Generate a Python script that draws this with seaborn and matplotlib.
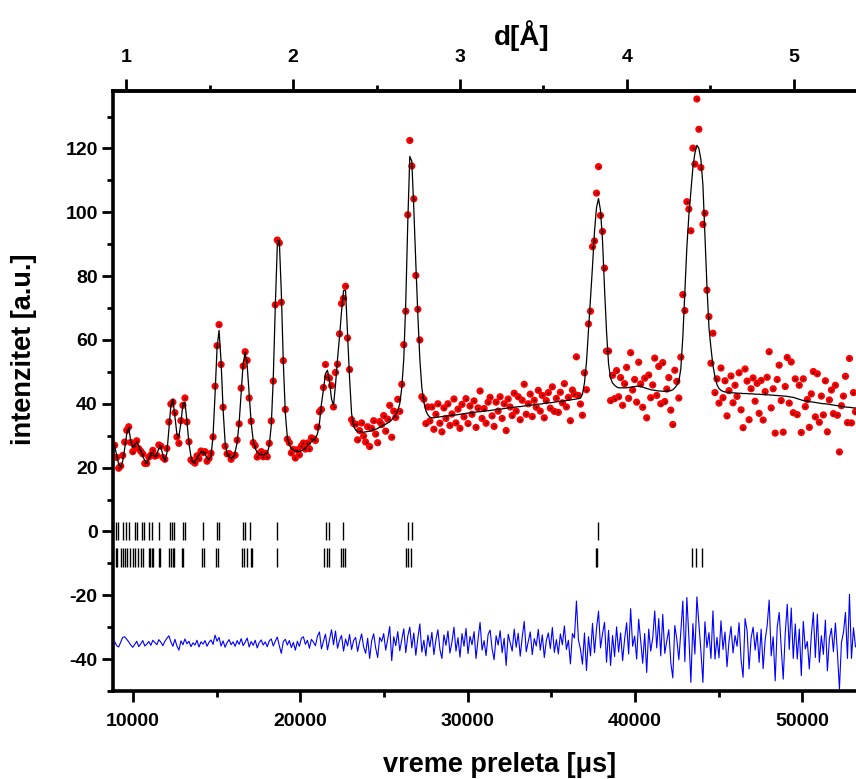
import numpy as np
import pandas as pd
import matplotlib
matplotlib.use('Agg')
import matplotlib.pyplot as plt
import seaborn as sns
from matplotlib.ticker import MultipleLocator, FixedLocator

# vreme preleta (TOF) kanali, korak 120
tof = np.arange(8900, 53181, 120)

# izracunati profil (crna linija), procitano sa slike
calc = [
    26.5, 24.0, 21.0, 20.2, 22.0, 26.0, 30.5, 32.4, 28.5, 26.3,
    27.2, 27.8, 27.0, 25.3, 23.5, 22.2, 21.6, 22.8, 24.6, 24.5,
    23.4, 24.3, 26.0, 26.4, 24.0, 22.0, 24.5, 32.0, 39.5, 41.5,
    36.0, 30.5, 29.8, 34.0, 40.0, 40.5, 34.5, 27.5, 23.5, 21.8,
    22.0, 22.8, 24.0, 24.8, 25.0, 24.2, 23.0, 22.6, 23.5, 30.0,
    43.0, 57.6, 63.0, 53.2, 38.2, 28.0, 24.1, 23.3, 23.1, 23.2,
    24.9, 27.8, 34.1, 43.5, 52.6, 56.0, 52.0, 43.0, 34.0, 28.5,
    26.0, 24.8, 24.2, 24.0, 24.0, 24.1, 24.5, 26.9, 33.3, 48.0,
    70.4, 89.4, 91.2, 75.0, 53.0, 37.0, 29.5, 27.0, 26.0, 25.5,
    25.2, 25.0, 25.0, 25.3, 25.7, 26.2, 26.8, 27.5, 28.1, 28.7,
    29.3, 30.5, 34.0, 40.0, 44.5, 49.5, 50.5, 47.0, 41.5, 39.5,
    46.0, 54.0, 61.0, 69.0, 75.5, 75.5, 61.5, 48.0, 37.0, 33.0,
    31.8, 31.3, 31.2, 31.1, 31.1, 31.2, 31.3, 31.4, 31.6, 31.8,
    32.0, 32.3, 32.6, 33.0, 33.3, 33.6, 34.0, 34.3, 35.0, 35.7,
    36.5, 37.8, 40.0, 45.0, 54.0, 72.0, 97.0, 117.5, 116.0, 101.0,
    84.0, 68.0, 54.0, 45.0, 40.5, 37.8, 36.5, 35.8, 35.6, 35.6,
    35.7, 35.8, 35.9, 36.0, 36.1, 36.1, 36.2, 36.3, 36.4, 36.5,
    36.5, 36.6, 36.7, 36.8, 36.9, 37.0, 37.1, 37.2, 37.2, 37.3,
    37.4, 37.5, 37.5, 37.6, 37.7, 37.8, 37.8, 37.9, 38.0, 38.1,
    38.2, 38.3, 38.3, 38.4, 38.5, 38.6, 38.7, 38.8, 38.8, 38.9,
    39.0, 39.1, 39.1, 39.2, 39.3, 39.4, 39.5, 39.5, 39.6, 39.7,
    39.8, 39.9, 39.9, 40.0, 40.1, 40.2, 40.3, 40.3, 40.4, 40.5,
    40.6, 40.7, 40.7, 40.8, 40.9, 41.0, 41.1, 41.2, 41.3, 41.4,
    41.5, 41.6, 41.8, 43.0, 46.5, 53.0, 63.0, 73.0, 83.0, 94.0,
    101.5, 104.3, 100.5, 91.0, 76.0, 62.5, 52.5, 48.0, 46.5, 45.8,
    45.3, 45.0, 45.0, 45.0, 45.0, 45.0, 45.1, 45.2, 45.3, 45.4,
    45.5, 45.5, 45.4, 45.2, 45.0, 44.8, 44.6, 44.4, 44.3, 44.2,
    44.1, 44.0, 44.0, 43.9, 43.9, 43.9, 44.0, 44.1, 44.4, 45.0,
    45.8, 47.0, 51.0, 61.0, 75.0, 89.0, 99.0, 106.5, 114.0, 118.5,
    121.0, 120.0, 116.5, 108.5, 93.0, 77.0, 64.0, 57.5, 52.0, 48.5,
    46.0, 44.8, 44.2, 43.9, 43.7, 43.6, 43.5, 43.5, 43.4, 43.4,
    43.3, 43.3, 43.3, 43.2, 43.2, 43.2, 43.1, 43.1, 43.1, 43.0,
    43.0, 43.0, 42.9, 42.9, 42.8, 42.8, 42.8, 42.7, 42.7, 42.6,
    42.6, 42.5, 42.5, 42.4, 42.4, 42.3, 42.2, 42.1, 42.0, 41.8,
    41.6, 41.4, 41.2, 41.0, 40.9, 40.8, 40.7, 40.6, 40.5, 40.4,
    40.3, 40.2, 40.1, 40.0, 40.0, 39.9, 39.8, 39.7, 39.6, 39.5,
    39.4, 39.3, 39.2, 39.1, 39.0, 38.9, 38.9, 38.8, 38.7, 38.7,
]

# razlika (obs - calc), procitano sa plave linije
diff = [
    0.5, -0.8, -1.2, 0.3, 1.8, 2.0, 1.2, 0.4, -0.6, -1.3,
    -0.4, 0.6, -1.1, -0.2, 0.8, -0.9, -0.3, 0.5, -0.7, 0.9,
    0.2, -0.5, 1.1, 0.3, -0.8, 0.6, 1.5, 2.3, 0.4, -1.0,
    1.2, -0.9, -2.2, 0.7, -0.5, 1.3, -0.2, 0.6, -1.1, 0.1,
    -0.6, 0.9, -1.2, 0.4, -0.3, 0.8, -1.0, 0.3, 1.0, -0.4,
    2.5, 0.6, 1.8, -0.9, 0.7, -1.3, 0.2, 1.1, -0.5, 0.4,
    -1.0, 0.8, -0.4, 1.4, -0.8, 0.3, 1.6, -1.2, 0.5, -0.7,
    0.9, -1.5, 0.2, 1.0, -0.6, 0.4, -1.1, 0.7, 1.3, -0.9,
    0.6, 1.9, -0.8, -3.2, 0.5, 1.2, -0.6, 0.8, -1.4, 0.2,
    -2.2, 0.6, -1.0, 1.5, 2.0, -0.4, 0.9, -1.6, 1.2, 0.3,
    -0.8, 2.2, 3.5, -1.8, 0.6, 2.8, -2.1, 1.0, 4.2, -0.5,
    3.8, -1.6, 0.9, 2.4, -2.5, 1.3, -0.9, 2.7, -2.0, 0.8,
    1.8, -2.6, 0.4, 2.9, -1.2, -3.2, 1.5, -4.8, 0.7, 2.9,
    -1.5, -4.5, 1.8, 0.5, 3.0, -2.2, 1.2, 5.2, -5.5, 2.0,
    -0.8, 3.6, -2.4, 1.1, 4.5, -3.0, 2.2, 5.0, -1.5, 3.2,
    -3.8, 1.6, 6.0, -2.8, 0.9, -4.0, 2.5, -1.2, 3.4, -3.6,
    1.0, 4.2, -2.0, -4.8, 2.6, -0.7, 3.8, -3.1, 0.4, 5.0,
    -2.5, 1.7, -4.4, 3.0, -1.0, 4.6, -3.3, 2.1, -0.5, 3.6,
    -4.8, 1.2, 6.5, -2.2, 0.8, -3.9, 2.7, 4.1, -1.8, -5.2,
    2.3, -0.6, 3.9, -3.0, 1.5, -7.0, 2.8, 0.2, -2.5, 4.4,
    -1.3, 3.1, -4.1, 1.9, 6.8, -2.7, 0.5, 3.5, -3.6, 1.4,
    -0.9, 4.3, -2.2, 2.6, -4.5, 0.8, 3.2, -1.7, 4.9, -2.9,
    1.1, -3.4, 2.9, -0.5, 5.4, -2.0, 0.9, -6.5, 3.0, 1.6,
    13.2, 1.0, -1.9, -6.6, 3.2, -8.6, 2.0, -4.0, 6.2, -3.0,
    4.5, 10.0, -1.5, 3.0, 6.5, -6.0, 4.0, -7.0, 2.4, -4.2,
    5.1, -2.8, 3.2, -5.5, 1.3, 6.4, -3.4, 10.8, -1.0, 2.2,
    -5.0, 7.5, 0.8, -6.3, 3.0, -9.2, 4.4, -2.5, 1.6, 10.1,
    -1.5, 7.7, -4.0, 9.0, -3.2, 0.7, 4.2, -6.1, -10.9, 5.5,
    1.2, -5.2, 3.6, 13.2, -5.8, 14.3, 2.0, -12.3, 6.1, -3.4,
    14.5, 6.0, -2.5, -12.3, 6.7, -1.4, 3.3, -4.8, 10.1, -5.0,
    1.8, -4.6, 7.0, -2.0, 3.5, -7.4, 0.6, 5.2, -3.1, 2.4,
    -1.0, 6.4, -5.2, -10.7, 7.7, 3.9, -8.1, 1.6, 5.0, -2.2,
    3.4, -6.0, 4.4, -8.0, 1.0, 5.5, 13.5, -4.0, 2.0, -11.8,
    5.0, 9.6, -1.5, -11.3, 3.0, 12.2, -2.0, 11.0, -4.8, 6.0,
    -5.0, 4.4, -10.2, 6.8, -1.8, 0.5, -8.1, 2.5, 9.6, -4.5,
    9.1, -6.0, 2.3, -3.5, 7.2, -8.7, 1.4, 4.6, -2.7, 6.3,
    -3.0, -14.4, 0.2, 3.3, 9.6, -4.8, 15.3, -4.8, 4.8, -1.2,
]

diff_offset = -35

# polozaji refleksija za dve faze
faza1 = [8980, 9120, 9420, 9580, 9740, 10100, 10220, 10520, 10640, 10970,
         11120, 11570, 12210, 12310, 12450, 12970, 13090, 14200, 15040, 15160,
         16560, 16680, 16990, 18590, 21540, 21730, 22530, 26450, 26660, 37780]
faza2 = [8980, 9060, 9270, 9420, 9500, 9660, 9820, 9980, 10140, 10320,
         10480, 10580, 10960, 11030, 11150, 11210, 11540, 11610, 12150, 12250,
         12370, 12450, 12910, 13010, 14120, 14240, 14960, 15100, 16500, 16630,
         16800, 17050, 17130, 18590, 21420, 21580, 21730, 22420, 22530, 22670,
         26320, 26460, 26600, 37670, 37730, 43430, 43650, 43990]

d_ticks = [1, 2, 3, 4, 5]

df = pd.DataFrame({'tof': tof, 'calc': calc, 'diff': diff})
df['obs'] = df['calc'] + df['diff']
df['razlika'] = df['diff'] + diff_offset

sns.set_theme(style='ticks')
plt.rcParams['font.family'] = ['Liberation Sans', 'DejaVu Sans']
plt.rcParams['font.weight'] = 'bold'
plt.rcParams['text.color'] = 'black'
plt.rcParams['axes.labelcolor'] = 'black'
plt.rcParams['xtick.color'] = 'black'
plt.rcParams['ytick.color'] = 'black'
plt.rcParams['axes.unicode_minus'] = False

fig = plt.figure(figsize=(8.56, 7.79), dpi=100)
ax = fig.add_axes([113 / 856, 88 / 779, 1 - 113 / 856, 600 / 779])

sns.scatterplot(data=df, x='tof', y='obs', ax=ax, color='#ff0000', s=27,
                edgecolor='none', linewidth=0, zorder=2)
ax.scatter(df['tof'], df['obs'], s=0.2, color='black', zorder=3)
sns.lineplot(data=df, x='tof', y='calc', ax=ax, color='black', lw=0.9,
             estimator=None, sort=False, zorder=4)
sns.lineplot(data=df, x='tof', y='razlika', ax=ax, color='#0000ff', lw=0.8,
             estimator=None, sort=False, zorder=2)

ax.vlines(faza1, -2.8, 2.8, color='black', lw=1.0)
ax.vlines(faza2, -11.0, -5.3, color='black', lw=1.0)

ax.set_xlim(8800, 53210)
ax.set_ylim(-50, 138)

ax.xaxis.set_major_locator(MultipleLocator(10000))
ax.xaxis.set_minor_locator(MultipleLocator(5000))
ax.yaxis.set_major_locator(MultipleLocator(20))
ax.yaxis.set_minor_locator(MultipleLocator(10))
ax.tick_params(which='major', direction='out', length=8, width=2,
               labelsize=14, pad=3, colors='black')
ax.tick_params(which='minor', direction='out', length=4.5, width=2, colors='black')
ax.tick_params(axis='x', which='both', top=False)
ax.tick_params(axis='x', pad=8)

for side in ['left', 'bottom', 'top']:
    ax.spines[side].set_linewidth(2.6)
    ax.spines[side].set_color('black')
ax.spines['right'].set_visible(False)

ax.set_xlabel('vreme preleta [μs]', fontsize=19.5, fontweight='bold', labelpad=16)
ax.xaxis.label.set_x(0.52)
ax.set_ylabel('intenzitet [a.u.]', fontsize=19.5, fontweight='bold')
ax.yaxis.set_label_coords(-0.102, 0.57)

# gornja osa: d[A] (linearno sa TOF)
secax = ax.secondary_xaxis('top', functions=(lambda t: (t + 400) / 9980,
                                              lambda d: d * 9980 - 400))
secax.xaxis.set_major_locator(FixedLocator(d_ticks))
secax.xaxis.set_minor_locator(FixedLocator([1.5, 2.5, 3.5, 4.5]))
secax.tick_params(which='major', direction='out', length=9, width=2,
                  labelsize=14, pad=9, colors='black')
secax.tick_params(which='minor', direction='out', length=4.5, width=2, colors='black')
secax.spines['top'].set_linewidth(2.6)
secax.set_xlabel('d[Å]', fontsize=20, fontweight='bold', labelpad=3)
secax.xaxis.label.set_x(0.55)

fig.savefig('out.png', dpi=100)
